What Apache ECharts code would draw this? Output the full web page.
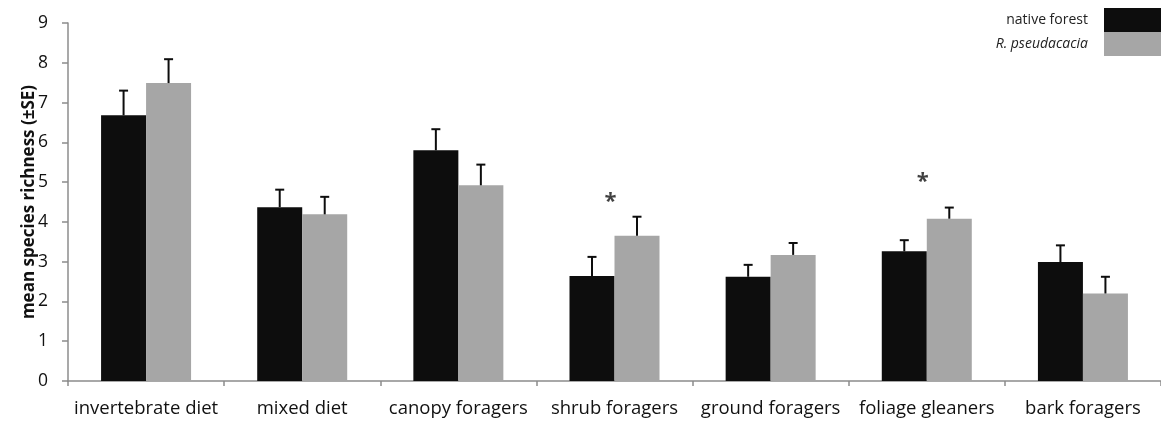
<!DOCTYPE html>
<html>
<head>
<meta charset="utf-8">
<script src="https://cdn.jsdelivr.net/npm/echarts@6/dist/echarts.min.js"></script>
<style>
html,body{margin:0;padding:0;background:#fff;}
#chart{width:1161px;height:422px;}
</style>
</head>
<body>
<div id="chart"></div>
<script>
const categories = ['invertebrate diet','mixed diet','canopy foragers','shrub foragers','ground foragers','foliage gleaners','bark foragers'];
const nativeMeans = [6.68, 4.37, 5.80, 2.64, 2.62, 3.26, 2.99];
const nativeSE    = [0.62, 0.44, 0.53, 0.48, 0.30, 0.28, 0.42];
const robiniaMeans = [7.49, 4.19, 4.92, 3.65, 3.17, 4.08, 2.20];
const robiniaSE    = [0.60, 0.44, 0.52, 0.48, 0.30, 0.28, 0.42];
const seriesNames = ['native forest', 'R. pseudacacia'];
const sigCategories = [3, 5];
const sigValues = [4.55, 5.05];
const yMin = 0, yMax = 9, yInterval = 1;

const FONT = '"Open Sans", Lato, sans-serif';
const BAR_W = 45;

function errData(means, se){
  return means.map((m,i)=>[i, m, m + se[i]]);
}
function errRender(offset){
  return function(params, api){
    const x = api.value(0);
    const p1 = api.coord([x, api.value(1)]);
    const p2 = api.coord([x, api.value(2)]);
    const cx = p1[0] + offset;
    const style = {stroke:'#0d0d0d', lineWidth:2};
    return {type:'group', children:[
      {type:'line', shape:{x1:cx, y1:p1[1], x2:cx, y2:p2[1]}, style},
      {type:'line', shape:{x1:cx-4.5, y1:p2[1], x2:cx+4.5, y2:p2[1]}, style}
    ]};
  };
}

const chart = echarts.init(document.getElementById('chart'));
chart.setOption({
  animation:false,
  textStyle:{fontFamily:FONT},
  grid:{left:68, top:23, bottom:41, right:-7, containLabel:false},
  legend:{
    data:seriesNames,
    orient:'vertical', right:0, top:8, align:'right', padding:0,
    itemWidth:57, itemHeight:24, itemGap:0,
    icon:'rect',
    textStyle:{fontFamily:FONT, fontSize:14, color:'#222', padding:[0,11,0,0],
      rich:{i:{fontStyle:'italic', fontFamily:FONT, fontSize:14, color:'#222'}}},
    formatter: n => n === 'R. pseudacacia' ? '{i|' + n + '}' : n
  },
  xAxis:{
    type:'category', data:categories,
    axisLine:{lineStyle:{color:'#8c8c8c', width:1.5}},
    axisTick:{show:true, length:5, lineStyle:{color:'#8c8c8c', width:1.5}},
    axisLabel:{color:'#111', fontSize:18.5, margin:18, fontFamily:FONT, interval:0}
  },
  yAxis:{
    type:'value', min:yMin, max:yMax, interval:yInterval,
    name:'mean species richness (±SE)', nameLocation:'middle', nameGap:30, nameMoveOverlap:false,
    nameTextStyle:{fontSize:17, fontWeight:'bold', color:'#111', fontFamily:FONT},
    axisLine:{show:true, lineStyle:{color:'#8c8c8c', width:1.5}},
    axisTick:{show:true, length:6, lineStyle:{color:'#8c8c8c', width:1.5}},
    splitLine:{show:false},
    axisLabel:{color:'#111', fontSize:17.5, margin:20, fontFamily:FONT}
  },
  series:[
    {name:seriesNames[0], type:'bar', data:nativeMeans, barWidth:BAR_W, barGap:'0%',
      itemStyle:{color:'#0d0d0d'}},
    {name:seriesNames[1], type:'bar', data:robiniaMeans, barWidth:BAR_W, barGap:'0%',
      itemStyle:{color:'#a6a6a6'}},
    {type:'custom', data:errData(nativeMeans, nativeSE), renderItem:errRender(-BAR_W/2),
      encode:{x:0, y:[1,2]}, z:5, silent:true},
    {type:'custom', data:errData(robiniaMeans, robiniaSE), renderItem:errRender(BAR_W/2),
      encode:{x:0, y:[1,2]}, z:5, silent:true},
    {type:'scatter', symbolSize:0, silent:true,
      data:sigCategories.map((c,i)=>[c, sigValues[i]]),
      label:{show:true, position:'inside', formatter:'*', offset:[-4,2], fontSize:22, fontWeight:'bold', color:'#111', fontFamily:FONT}}
  ]
});
</script>
</body>
</html>
